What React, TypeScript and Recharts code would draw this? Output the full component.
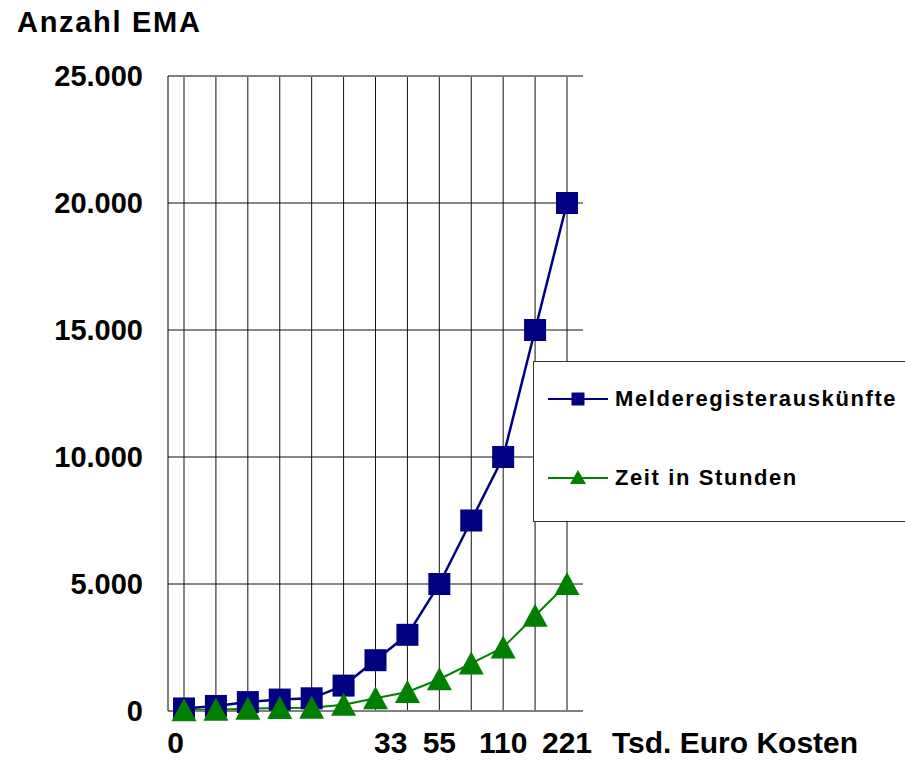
import React from 'react';
import { LineChart, Line, XAxis, YAxis, CartesianGrid, ReferenceLine } from 'recharts';

const xLabels = ['0', '', '', '', '', '', '', '33', '55', '', '110', '', '221'];
const xLabelAnchors = ['end', 'middle', 'middle', 'middle', 'middle', 'middle', 'middle', 'end', 'middle', 'middle', 'middle', 'middle', 'middle'];
const melderegister = [100, 200, 350, 450, 500, 1000, 2000, 3000, 5000, 7500, 10000, 15000, 20000];
const zeitStunden = [25, 50, 90, 115, 125, 250, 500, 750, 1250, 1875, 2500, 3750, 5000];
const yTicks = [0, 5000, 10000, 15000, 20000, 25000];
const seriesNames = ['Melderegisterauskünfte', 'Zeit in Stunden'];
const seriesColors = ['#000080', '#008000'];

const data = xLabels.map((label, i) => ({
  label,
  melde: melderegister[i],
  zeit: zeitStunden[i],
}));

const FONT = '"Liberation Sans", Arial, Helvetica, sans-serif';

const fmt = (v: number) => String(v).replace(/\B(?=(\d{3})+(?!\d))/g, '.');

const SquareDot = (props: any) => {
  const { cx, cy, index } = props;
  if (cx == null || cy == null) return <g key={index} />;
  return <rect key={index} x={cx - 11} y={cy - 11} width={22} height={22} fill={seriesColors[0]} />;
};

const TriangleDot = (props: any) => {
  const { cx, cy, index } = props;
  if (cx == null || cy == null) return <g key={index} />;
  return (
    <polygon
      key={index}
      points={`${cx},${cy - 12} ${cx + 12.5},${cy + 11} ${cx - 12.5},${cy + 11}`}
      fill={seriesColors[1]}
    />
  );
};

const XTick = (props: any) => {
  const { x, y, index } = props;
  const label = xLabels[index];
  if (!label) return <g />;
  return (
    <text
      x={x}
      y={y}
      dy="0.71em"
      textAnchor={xLabelAnchors[index] as any}
      fontFamily={FONT}
      fontWeight="bold"
      fontSize={30}
      fill="#000"
    >
      {label}
    </text>
  );
};

const XTitle = (props: any) => {
  const { viewBox } = props;
  return (
    <text
      x={viewBox.x + viewBox.width + 29}
      y={viewBox.y + 42}
      fontFamily={FONT}
      fontWeight="bold"
      fontSize={30}
      fill="#000"
    >
      Tsd. Euro Kosten
    </text>
  );
};

const YTitle = () => (
  <text x={17} y={32} fontFamily={FONT} fontWeight="bold" fontSize={29} letterSpacing={1.7} fill="#000">
    Anzahl EMA
  </text>
);

const LegendBox = () => (
  <div
    style={{
      position: 'absolute',
      left: 533,
      top: 361,
      width: 390,
      height: 161,
      boxSizing: 'border-box',
      border: '1px solid #333',
      background: '#fff',
    }}
  >
    <svg width={390} height={160} style={{ display: 'block' }}>
      {seriesNames.map((name, i) => {
        const cy = i === 0 ? 37 : 116;
        return (
          <g key={name}>
            <line x1={14} x2={74} y1={cy} y2={cy} stroke={seriesColors[i]} strokeWidth={2} />
            {i === 0 ? (
              <rect x={44 - 6.5} y={cy - 6.5} width={13} height={13} fill={seriesColors[0]} />
            ) : (
              <polygon points={`44,${cy - 8} 52,${cy + 6} 36,${cy + 6}`} fill={seriesColors[1]} />
            )}
            <text
              x={81}
              y={cy + 7}
              fontFamily={FONT}
              fontWeight="bold"
              fontSize={22}
              letterSpacing={1.6}
              fill="#000"
            >
              {name}
            </text>
          </g>
        );
      })}
    </svg>
  </div>
);

export default function App() {
  return (
    <div style={{ position: 'relative', width: 905, height: 760, overflow: 'hidden' }}>
      <style>{'body{margin:0;}'}</style>
      <LineChart
        width={905}
        height={760}
        data={data}
        margin={{ top: 76, right: 322, left: 0, bottom: 0 }}
      >
        <CartesianGrid stroke="#111" strokeWidth={1} vertical={true} horizontal={true} syncWithTicks={true} />
        <XAxis
          dataKey="label"
          padding={{ left: 16, right: 16 }}
          interval={0}
          height={49}
          tickSize={0}
          tickMargin={21}
          tick={<XTick />}
          axisLine={{ stroke: '#808080', strokeWidth: 2 }}
          tickLine={false}
          label={<XTitle />}
        />
        <YAxis
          domain={[0, 25000]}
          ticks={yTicks}
          width={168}
          tickSize={0}
          tickMargin={25}
          tickFormatter={fmt}
          tick={{ fontFamily: FONT, fontWeight: 'bold', fontSize: 29, fill: '#000' }}
          axisLine={{ stroke: '#000', strokeWidth: 1 }}
          tickLine={false}
          label={<YTitle />}
        />
        <ReferenceLine y={25000} stroke="#808080" strokeWidth={2} />
        <Line
          dataKey="melde"
          name={seriesNames[0]}
          stroke={seriesColors[0]}
          strokeWidth={2.5}
          dot={SquareDot}
          activeDot={false}
          isAnimationActive={false}
        />
        <Line
          dataKey="zeit"
          name={seriesNames[1]}
          stroke={seriesColors[1]}
          strokeWidth={2}
          dot={TriangleDot}
          activeDot={false}
          isAnimationActive={false}
        />
      </LineChart>
      <LegendBox />
    </div>
  );
}
